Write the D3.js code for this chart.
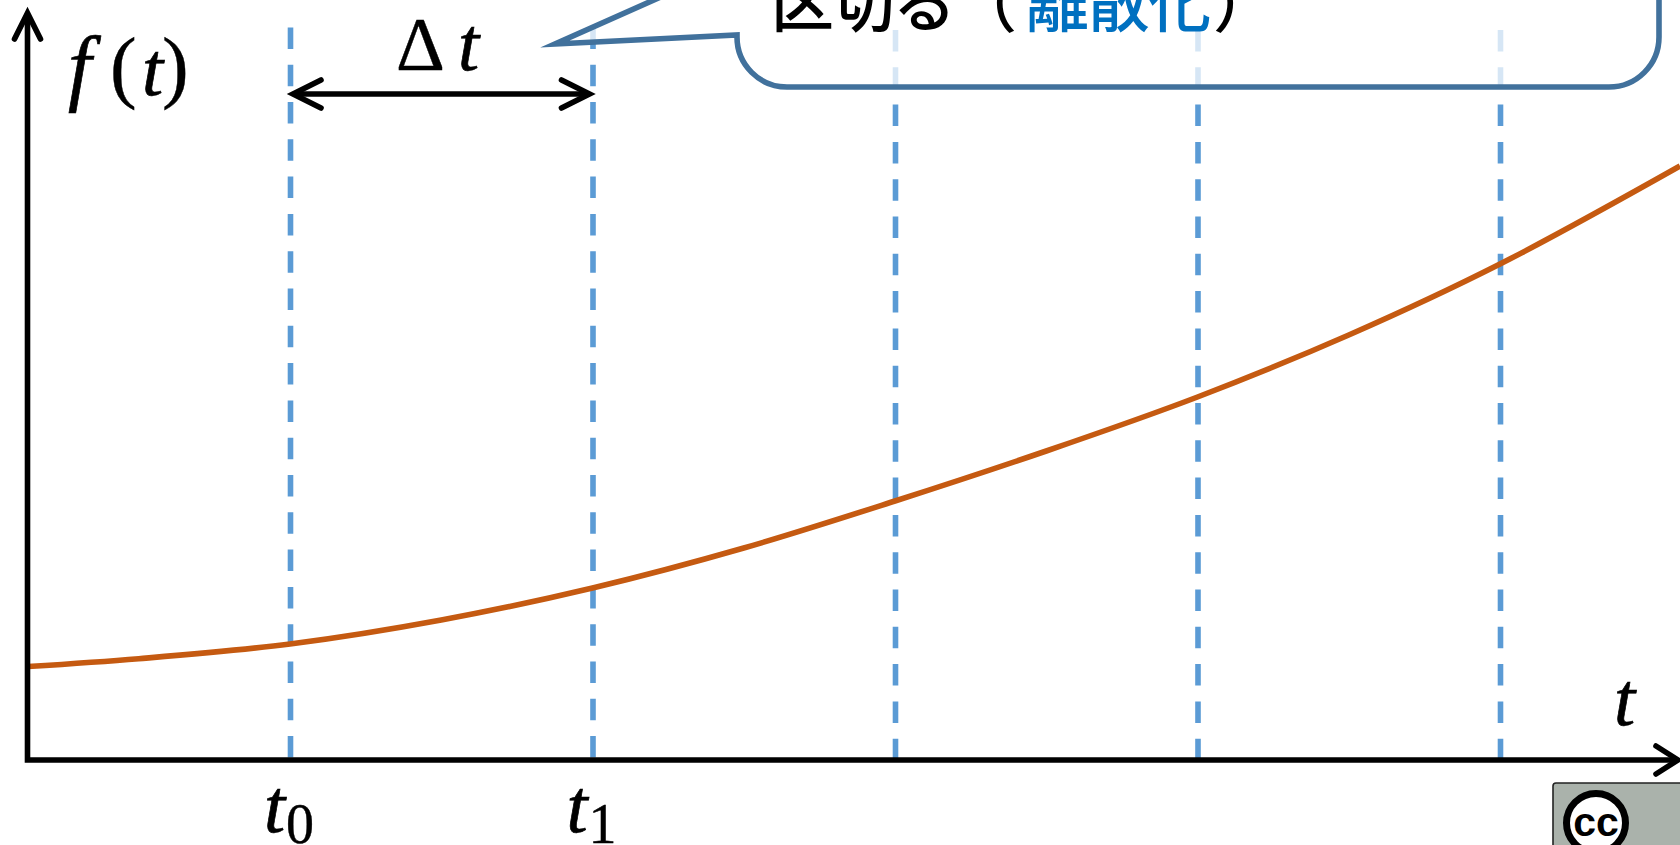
<!DOCTYPE html>
<html><head><meta charset="utf-8">
<script src="https://cdn.jsdelivr.net/npm/d3@7/dist/d3.min.js"></script>
<style>html,body{margin:0;padding:0;background:#fff;overflow:hidden}svg{display:block}
.m{font-family:"Liberation Serif",serif;font-style:italic;fill:#000;stroke:#000;stroke-width:.7}
.u{font-family:"Liberation Serif",serif;fill:#000;stroke:#000;stroke-width:.4}
.jp{font-family:"Noto Sans CJK JP",sans-serif;font-weight:500}
</style></head><body><script>
const gridT = [0, 1, 2, 3, 4];
const gridLabels = ["0", "1"];
const curveT = [-0.866, -0.5, 0, 0.5, 1, 1.5, 2, 2.5, 3, 3.5, 4, 4.595];
const curveF = [0.935, 1.013, 1.16, 1.40, 1.72, 2.12, 2.59, 3.09, 3.63, 4.25, 4.96, 5.94];
const calloutA = ["区", "切", "る", "（"];
const calloutB = ["離", "散", "化"];
const W = 1680, H = 845;
const x = d3.scaleLinear().domain([0, 4]).range([290, 1500]);
const y = d3.scaleLinear().domain([0, 7.6]).range([760, 0]);
const svg = d3.select("body").append("svg").attr("width", W).attr("height", H);
const black = "#000", dashC = "#5B9BD5", curveC = "#C55A11", callC = "#41719C", blue = "#0070C0";
const SW = 5.6;

// dashed grid
svg.selectAll(".g").data(gridT).join("line").attr("class", "g")
  .attr("x1", d => x(d) + 0.5).attr("x2", d => x(d) + 0.5)
  .attr("y1", (d, i) => i < 2 ? 27.4 : 30).attr("y2", 759)
  .attr("stroke", dashC).attr("stroke-width", SW).attr("stroke-dasharray", "21.5 15.8");

// curve
svg.append("path").datum(curveT.map((t, i) => [t, curveF[i]]))
  .attr("d", d3.line().x(d => x(d[0])).y(d => y(d[1])).curve(d3.curveCatmullRom.alpha(0.5)))
  .attr("fill", "none").attr("stroke", curveC).attr("stroke-width", SW);

// axes
svg.append("path").attr("d", "M27.5,14V760H1676").attr("fill", "none").attr("stroke", black).attr("stroke-width", SW);
svg.append("path").attr("d", "M14.5,39L27.5,13L40.5,39").attr("fill", "none").attr("stroke", black).attr("stroke-width", SW).attr("stroke-linecap", "round");
svg.append("path").attr("d", "M1656,746L1678,760L1656,774").attr("fill", "none").attr("stroke", black).attr("stroke-width", SW).attr("stroke-linecap", "round");

// delta arrow
const ya = 94;
svg.append("path").attr("d", `M${x(0)+4},${ya}H${x(1)-4}`).attr("stroke", black).attr("stroke-width", SW);
svg.append("path").attr("d", `M${x(0)+31},${ya-14}L${x(0)+3},${ya}L${x(0)+31},${ya+14}`).attr("fill", "none").attr("stroke", black).attr("stroke-width", SW).attr("stroke-linecap", "round");
svg.append("path").attr("d", `M${x(1)-31},${ya-14}L${x(1)-3},${ya}L${x(1)-31},${ya+14}`).attr("fill", "none").attr("stroke", black).attr("stroke-width", SW).attr("stroke-linecap", "round");

// callout
svg.append("path")
  .attr("d", "M555,44L737,35V37A50,50 0 0 0 787,87H1609A50,50 0 0 0 1659,37V-100H737V-37Z")
  .attr("fill", "#fff").attr("fill-opacity", 0.75).attr("stroke", callC).attr("stroke-width", SW)
  .attr("stroke-linejoin", "miter").attr("stroke-miterlimit", 10);

const txt = (s, px, py, size, cls) => svg.append("text").attr("x", px).attr("y", py).attr("font-size", size).attr("class", cls).text(s);
// callout text
const step = 61, base = 26;
calloutA.forEach((c, i) => svg.append("text").attr("class", "jp").attr("x", 771 + i * step).attr("y", base).attr("font-size", 63).attr("fill", black).text(c));
calloutB.forEach((c, i) => svg.append("text").attr("class", "jp").attr("x", 1026 + i * step).attr("y", base).attr("font-size", 63).attr("fill", blue).text(c));
svg.append("text").attr("class", "jp").attr("x", 1213).attr("y", base).attr("font-size", 63).attr("fill", black).text("）");

// math labels
txt("f", 68, 95, 84, "m");
txt("(", 110, 93, 80, "u");
txt("t", 142, 95, 76, "m");
txt(")", 162, 93, 80, "u");
txt("Δ", 396, 70, 76, "u");
txt("t", 458, 70, 76, "m");
txt("t", 1614, 725, 76, "m");
gridLabels.forEach((s, i) => {
  txt("t", x(i) - 26, 832, 76, "m");
  svg.append("text").attr("class", "u").attr("x", x(i) - 4).attr("y", 843).attr("font-size", 56).text(s);
});

// CC badge
svg.append("rect").attr("x", 1553).attr("y", 783).attr("width", 200).attr("height", 100).attr("rx", 3)
  .attr("fill", "#AAB2AB").attr("stroke", "#222").attr("stroke-width", 1.6);
svg.append("circle").attr("cx", 1596).attr("cy", 823).attr("r", 29.5).attr("fill", "#fff").attr("stroke", "#000").attr("stroke-width", 7);
svg.append("text").attr("x", 1596).attr("y", 836).attr("text-anchor", "middle").attr("font-family", "Liberation Sans, sans-serif")
  .attr("font-weight", 700).attr("font-size", 41).text("cc");
</script></body></html>
